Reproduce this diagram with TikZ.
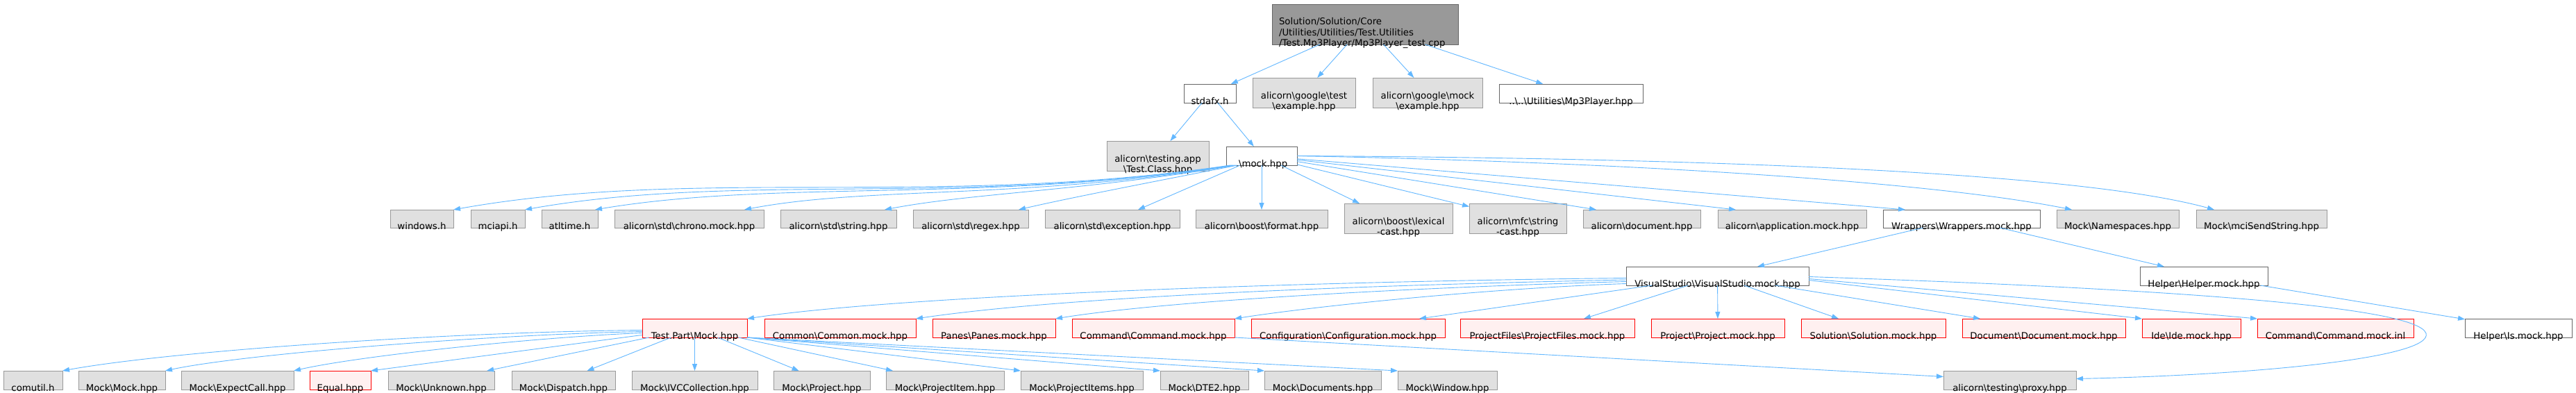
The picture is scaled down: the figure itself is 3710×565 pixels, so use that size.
\documentclass[tikz,border=0pt]{standalone}
\usepackage{fontspec}
\setmainfont{DejaVu Sans}
\usetikzlibrary{arrows.meta}
\definecolor{edgec}{HTML}{63B8FF}
\definecolor{grayfill}{HTML}{E0E0E0}
\definecolor{grayline}{HTML}{999999}
\definecolor{darkline}{HTML}{666666}
\definecolor{rootfill}{HTML}{999999}
\definecolor{redfill}{HTML}{FFF0F0}
\definecolor{redline}{HTML}{FF0000}
\newcommand{\bsl}{\textbackslash}
\newcommand{\bx}[7]{%
  \node[#6, minimum width={(#4-#2)*1pt}, minimum height={(#5-#3)*1pt}] (#1) at ({(#2+#4)/2},{-(#3+#5)/2}) {};
  \node[lbl, anchor=south] (#1t) at ([yshift=-7.15pt]#1.south) {#7\strut};
}
\tikzset{
  boxbase/.style={draw, rectangle, inner sep=0pt, outer sep=0pt, line width=1pt},
  graybox/.style={boxbase, fill=grayfill, draw=grayline},
  whitebox/.style={boxbase, fill=white, draw=darkline},
  redbox/.style={boxbase, fill=redfill, draw=redline},
  rootbox/.style={boxbase, fill=rootfill, draw=darkline},
  lbl/.style={font=\fontsize{13.3}{15.5}\selectfont, inner sep=0pt, outer sep=0pt, align=center, text=black},
  conn/.style={draw=edgec, line width=0.9pt, -{Triangle[length=10pt,width=7pt]}}
}
\begin{document}
\begin{tikzpicture}[x=1pt,y=1pt]
\fill[white] (0,0) rectangle (3710,-565);
\useasboundingbox (0,0) rectangle (3710,-565);
% row 0
\node[rootbox, minimum width=268pt, minimum height=58pt] (root) at (1966,-35) {};
\node[lbl, anchor=south west, align=left] (roott) at ([xshift=10pt,yshift=-7.15pt]root.south west) {Solution/Solution/Core\\/Utilities/Utilities/Test.Utilities\\/Test.Mp3Player/Mp3Player\_test.cpp\strut};
% row 1
\bx{stdafx}{1705}{121}{1780}{148}{whitebox}{stdafx.h}
\bx{gtest}{1804}{112}{1952}{155}{graybox}{alicorn\bsl google\bsl test\\\bsl example.hpp}
\bx{gmock}{1977}{112}{2135}{155}{graybox}{alicorn\bsl google\bsl mock\\\bsl example.hpp}
\bx{mp3}{2159}{121}{2366}{148}{whitebox}{..\bsl..\bsl Utilities\bsl Mp3Player.hpp}
% row 2
\bx{tapp}{1594}{203}{1741}{246}{graybox}{alicorn\bsl testing.app\\\bsl Test.Class.hpp}
\bx{mock}{1766}{211}{1868}{238}{whitebox}{.\bsl mock.hpp}
% row 3
\bx{win}{562}{302}{653}{328}{graybox}{windows.h}
\bx{mci}{678}{302}{756}{328}{graybox}{mciapi.h}
\bx{atl}{780}{302}{861}{328}{graybox}{atltime.h}
\bx{chrono}{885}{302}{1100}{328}{graybox}{alicorn\bsl std\bsl chrono.mock.hpp}
\bx{str}{1124}{302}{1291}{328}{graybox}{alicorn\bsl std\bsl string.hpp}
\bx{regex}{1315}{302}{1481}{328}{graybox}{alicorn\bsl std\bsl regex.hpp}
\bx{exc}{1505}{302}{1699}{328}{graybox}{alicorn\bsl std\bsl exception.hpp}
\bx{fmt}{1722}{302}{1912}{328}{graybox}{alicorn\bsl boost\bsl format.hpp}
\bx{lex}{1936}{293}{2092}{336}{graybox}{alicorn\bsl boost\bsl lexical\\-cast.hpp}
\bx{mfc}{2116}{293}{2256}{336}{graybox}{alicorn\bsl mfc\bsl string\\-cast.hpp}
\bx{doc}{2280}{302}{2449}{328}{graybox}{alicorn\bsl document.hpp}
\bx{app}{2474}{302}{2688}{328}{graybox}{alicorn\bsl application.mock.hpp}
\bx{wrap}{2712}{302}{2938}{328}{whitebox}{Wrappers\bsl Wrappers.mock.hpp}
\bx{ns}{2962}{302}{3138}{328}{graybox}{Mock\bsl Namespaces.hpp}
\bx{mcs}{3163}{302}{3351}{328}{graybox}{Mock\bsl mciSendString.hpp}
% row 4
\bx{vs}{2342}{384}{2605}{411}{whitebox}{VisualStudio\bsl VisualStudio.mock.hpp}
\bx{helper}{3082}{384}{3266}{411}{whitebox}{Helper\bsl Helper.mock.hpp}
% row 5
\bx{tp}{925}{459}{1076}{486}{redbox}{Test.Part\bsl Mock.hpp}
\bx{common}{1101}{459}{1319}{486}{redbox}{Common\bsl Common.mock.hpp}
\bx{panes}{1343}{459}{1520}{486}{redbox}{Panes\bsl Panes.mock.hpp}
\bx{cmd}{1544}{459}{1778}{486}{redbox}{Command\bsl Command.mock.hpp}
\bx{conf}{1802}{459}{2081}{486}{redbox}{Configuration\bsl Configuration.mock.hpp}
\bx{pf}{2103}{459}{2354}{486}{redbox}{ProjectFiles\bsl ProjectFiles.mock.hpp}
\bx{proj}{2378}{459}{2570}{486}{redbox}{Project\bsl Project.mock.hpp}
\bx{sol}{2594}{459}{2802}{486}{redbox}{Solution\bsl Solution.mock.hpp}
\bx{docm}{2826}{459}{3061}{486}{redbox}{Document\bsl Document.mock.hpp}
\bx{ide}{3085}{459}{3227}{486}{redbox}{Ide\bsl Ide.mock.hpp}
\bx{inl}{3251}{459}{3476}{486}{redbox}{Command\bsl Command.mock.inl}
\bx{is}{3550}{459}{3704}{486}{whitebox}{Helper\bsl Is.mock.hpp}
% row 6
\bx{comutil}{5}{534}{90}{561}{graybox}{comutil.h}
\bx{mmock}{113}{534}{238}{561}{graybox}{Mock\bsl Mock.hpp}
\bx{expc}{261}{534}{423}{561}{graybox}{Mock\bsl ExpectCall.hpp}
\bx{equal}{446}{534}{534}{561}{redbox}{Equal.hpp}
\bx{unk}{559}{534}{712}{561}{graybox}{Mock\bsl Unknown.hpp}
\bx{disp}{737}{534}{886}{561}{graybox}{Mock\bsl Dispatch.hpp}
\bx{ivc}{910}{534}{1091}{561}{graybox}{Mock\bsl IVCCollection.hpp}
\bx{mproj}{1114}{534}{1253}{561}{graybox}{Mock\bsl Project.hpp}
\bx{mpi}{1276}{534}{1446}{561}{graybox}{Mock\bsl ProjectItem.hpp}
\bx{mpis}{1470}{534}{1646}{561}{graybox}{Mock\bsl ProjectItems.hpp}
\bx{dte}{1671}{534}{1798}{561}{graybox}{Mock\bsl DTE2.hpp}
\bx{mdocs}{1821}{534}{1989}{561}{graybox}{Mock\bsl Documents.hpp}
\bx{mwin}{2013}{534}{2156}{561}{graybox}{Mock\bsl Window.hpp}
\bx{proxy}{2799}{534}{2990}{561}{graybox}{alicorn\bsl testing\bsl proxy.hpp}
% edges: root
\draw[conn] (root) -- (stdafx);
\draw[conn] (root) -- (gtest);
\draw[conn] (root) -- (gmock);
\draw[conn] (root) -- (mp3);
\draw[conn] (stdafx) -- (tapp);
\draw[conn] (stdafx) -- (mock);
% edges: mock
\draw[conn] ([xshift=6pt]mock.south west) .. controls (1350,-300) and (1000,-240) .. (win.north east);
\draw[conn] ([xshift=8pt]mock.south west) .. controls (1380,-298) and (1060,-248) .. (mci.north east);
\draw[conn] ([xshift=10pt]mock.south west) .. controls (1420,-293) and (1120,-258) .. ([xshift=-4pt]atl.north east);
\draw[conn] ([xshift=12pt]mock.south west) .. controls (1470,-288) and (1250,-268) .. ([xshift=-28pt]chrono.north east);
\draw[conn] ([xshift=14pt]mock.south west) .. controls (1560,-275) and (1400,-278) .. ([xshift=-17pt]str.north east);
\draw[conn] ([xshift=16pt]mock.south west) .. controls (1660,-262) and (1540,-285) .. ([xshift=-14pt]regex.north east);
\draw[conn] (mock) -- ([xshift=-60pt]exc.north east);
\draw[conn] (mock) -- (fmt);
\draw[conn] (mock) -- ([xshift=22pt]lex.north west);
\draw[conn] (mock) -- (mfc);
\draw[conn] (mock) -- ([xshift=19pt]doc.north west);
\draw[conn] (mock) -- ([xshift=26pt]app.north west);
\draw[conn] (mock) -- ([xshift=32pt]wrap.north west);
\draw[conn] (mock.east) .. controls (2400,-235) and (2800,-265) .. ([xshift=22pt]ns.north west);
\draw[conn] (mock.east) .. controls (2500,-228) and (3000,-250) .. ([xshift=26pt]mcs.north west);
% edges: wrappers / helper
\draw[conn] (wrap) -- (vs);
\draw[conn] (wrap) -- (helper);
\draw[conn] (helper) -- (is);
% edges: visual studio
\draw[conn] ([yshift=-3pt]vs.west) .. controls (1900,-405) and (1300,-425) .. (tp.north east);
\draw[conn] ([yshift=-5.5pt]vs.west) .. controls (2000,-410) and (1550,-425) .. (common.north east);
\draw[conn] ([yshift=-8pt]vs.west) .. controls (2100,-412) and (1700,-430) .. (panes.north east);
\draw[conn] ([yshift=-11pt]vs.west) .. controls (2150,-415) and (1900,-440) .. (cmd.north east);
\draw[conn] (vs) -- ([xshift=-37pt]conf.north east);
\draw[conn] (vs) -- ([xshift=-73pt]pf.north east);
\draw[conn] (vs) -- (proj);
\draw[conn] (vs) -- ([xshift=54pt]sol.north west);
\draw[conn] (vs) -- ([xshift=26pt]docm.north west);
\draw[conn] ([yshift=-6pt]vs.east) -- (ide.north west);
\draw[conn] ([yshift=-4pt]vs.east) -- (inl.north west);
\draw[conn] ([yshift=-1pt]vs.east) .. controls (3100,-415) and (3480,-440) .. (3494,-480) .. controls (3505,-515) and (3250,-540) .. ([yshift=2pt]proxy.east);
\draw[conn] (cmd.south east) -- ([yshift=5pt]proxy.west);
% edges: test part
\draw[conn] ([yshift=-3pt]tp.west) .. controls (650,-478) and (250,-505) .. (comutil.north east);
\draw[conn] ([yshift=-5pt]tp.west) .. controls (700,-482) and (350,-510) .. (mmock.north east);
\draw[conn] ([yshift=-7pt]tp.west) .. controls (780,-485) and (520,-512) .. (expc.north east);
\draw[conn] (tp) -- (equal.north east);
\draw[conn] (tp) -- (unk);
\draw[conn] (tp) -- (disp);
\draw[conn] (tp) -- (ivc);
\draw[conn] (tp) -- (mproj);
\draw[conn] (tp) -- ([xshift=10pt]mpi.north west);
\draw[conn] (tp.south east) -- (mpis.north west);
\draw[conn] (tp.south east) -- (dte.north west);
\draw[conn] (tp.south east) -- (mdocs.north west);
\draw[conn] (tp.south east) -- (mwin.north west);
\end{tikzpicture}
\end{document}
